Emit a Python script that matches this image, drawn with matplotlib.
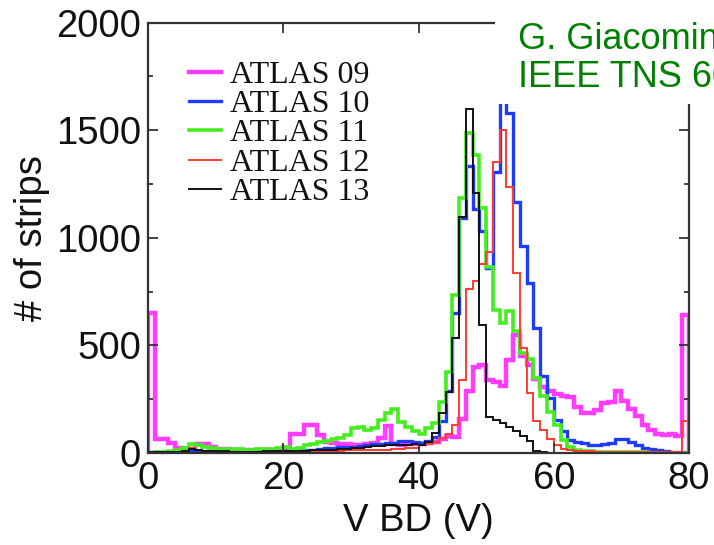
import numpy as np
import matplotlib
matplotlib.use("Agg")
import matplotlib.pyplot as plt
from matplotlib.patches import Rectangle

# breakdown voltage histograms, 1 V bins from 0 to 80 V
bin_edges = np.arange(0, 81, 1)

atlas09 = [650, 65, 65, 45, 25, 20, 20, 42, 42, 28,
           20, 18, 15, 15, 15, 15, 15, 15, 15, 18,
           22, 90, 90, 130, 130, 85, 50, 45, 40, 40,
           35, 35, 40, 45, 70, 125, 40, 38, 40, 40,
           40, 45, 50, 65, 80, 75, 160, 290, 400, 410,
           340, 330, 310, 430, 550, 450, 410, 345, 305, 290,
           275, 265, 260, 215, 185, 185, 200, 230, 235, 290,
           240, 205, 170, 130, 105, 90, 85, 90, 80, 640]

atlas10 = [3, 3, 4, 5, 5, 8, 12, 10, 8, 7,
           6, 6, 6, 6, 6, 6, 7, 7, 8, 8,
           10, 10, 12, 15, 15, 18, 22, 25, 28, 30,
           30, 32, 35, 40, 42, 45, 45, 55, 58, 50,
           45, 55, 75, 150, 290, 650, 1090, 1335, 1135, 1030,
           860, 1305, 1750, 1580, 1165, 960, 790, 580, 360, 255,
           155, 100, 60, 53, 45, 35, 35, 40, 45, 65,
           65, 50, 35, 25, 18, 12, 8, 5, 5, 3]

atlas11 = [2, 3, 5, 10, 15, 22, 40, 35, 28, 22,
           20, 18, 17, 17, 16, 16, 17, 18, 20, 25,
           30, 20, 25, 35, 40, 50, 55, 65, 70, 85,
           115, 120, 105, 115, 155, 185, 205, 145, 120, 100,
           90, 115, 138, 238, 378, 734, 1183, 1485, 1384, 1136,
           865, 665, 605, 660, 565, 465, 435, 350, 265, 190,
           130, 60, 30, 15, 10, 8, 6, 5, 5, 4,
           4, 3, 3, 3, 2, 2, 2, 2, 2, 2]

atlas12 = [2, 2, 3, 4, 5, 10, 25, 15, 10, 8,
           6, 6, 5, 5, 5, 5, 5, 6, 6, 7,
           8, 8, 8, 8, 8, 8, 8, 8, 8, 12,
           12, 12, 12, 15, 15, 15, 20, 20, 25, 25,
           35, 42, 50, 70, 90, 130, 340, 760, 800, 880,
           935, 1350, 1500, 1237, 834, 490, 277, 150, 105, 65,
           38, 20, 12, 10, 8, 7, 6, 6, 5, 5,
           5, 5, 5, 5, 5, 5, 5, 5, 5, 150]

atlas13 = [3, 3, 4, 5, 6, 10, 18, 14, 10, 8,
           7, 7, 6, 6, 6, 6, 6, 7, 7, 7,
           8, 9, 10, 11, 12, 13, 14, 15, 18, 20,
           22, 25, 28, 32, 33, 36, 38, 36, 35, 42,
           37, 53, 91, 184, 285, 532, 1097, 1600, 1206, 594,
           169, 155, 140, 120, 100, 80, 55, 10, 4, 2,
           2, 1, 1, 1, 1, 1, 1, 1, 1, 1,
           1, 1, 1, 1, 1, 1, 1, 1, 1, 1]

series = [atlas09, atlas10, atlas11, atlas12, atlas13]
labels = ["ATLAS 09", "ATLAS 10", "ATLAS 11", "ATLAS 12", "ATLAS 13"]
colors = ["#ff3cff", "#1e3cff", "#44ee1e", "#ff3c2e", "#111111"]
widths = [3.2, 2.4, 2.6, 1.4, 1.4]

plt.rcParams["font.family"] = ["Liberation Sans", "DejaVu Sans"]

fig = plt.figure(figsize=(7.14, 5.45), dpi=100)
ax = fig.add_axes([0.2073, 0.1688, 0.7577, 0.7899])

for vals, lab, col, lw in zip(series, labels, colors, widths):
    ax.stairs(vals, bin_edges, color=col, lw=lw, label=lab)

ax.set_xlim(0, 80)
ax.set_ylim(0, 2000)
ax.set_xticks([0, 20, 40, 60, 80])
ax.set_yticks([0, 500, 1000, 1500, 2000])
ax.set_yticks(np.arange(250, 2000, 500), minor=True)
ax.tick_params(which="both", direction="in", top=True, right=True,
               labelsize=27.5, colors="#333333", labelcolor="#111111")
ax.tick_params(which="major", length=7, width=1.3)
ax.tick_params(which="minor", length=3.6, width=1.3)
ax.tick_params(axis="x", pad=6)
ax.tick_params(axis="y", pad=5)
for s in ax.spines.values():
    s.set_linewidth(1.6)
    s.set_color("#333333")

ax.set_xlabel("V BD (V)", fontsize=27.5, labelpad=4, color="#111111")
ax.set_ylabel("# of strips", fontsize=27.5, labelpad=4, color="#111111")

leg = ax.legend(loc="upper left", bbox_to_anchor=(0.075, 0.912), frameon=False,
                prop={"family": ["Liberation Serif", "DejaVu Serif"], "size": 23},
                handlelength=1.0, handletextpad=0.3, labelspacing=0.0,
                borderpad=0, borderaxespad=0)
for t in leg.get_texts():
    t.set_color("#111111")

# white label box over the upper right corner, like the slide overlay
fig.patches.append(Rectangle((0.693, 0.81), 0.31, 0.2, transform=fig.transFigure,
                             facecolor="white", edgecolor="none", zorder=5))
fig.text(0.725, 0.96, "G. Giacomini", fontsize=26, color="#008000",
         va="top", ha="left", zorder=6)
fig.text(0.725, 0.89, "IEEE TNS 60", fontsize=26, color="#008000",
         va="top", ha="left", zorder=6)

fig.savefig("out.png", dpi=100)
